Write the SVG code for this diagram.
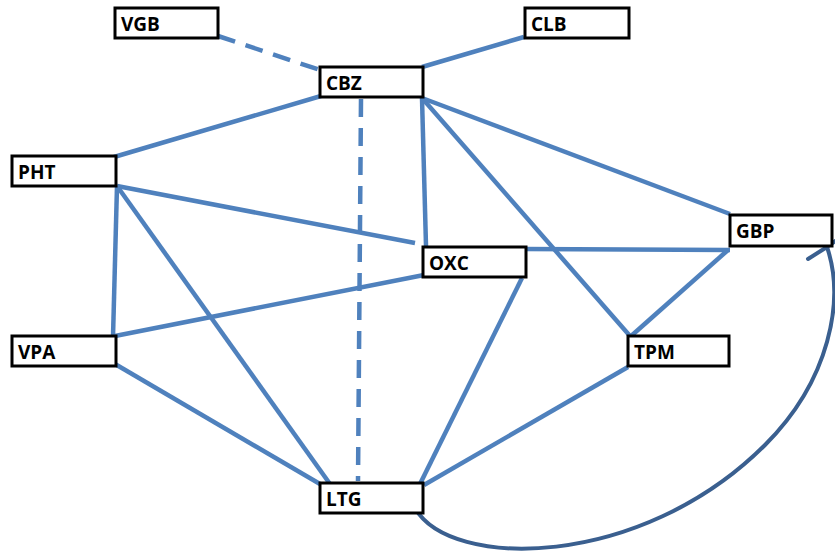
<svg xmlns="http://www.w3.org/2000/svg" width="835" height="554" viewBox="0 0 835 554">
  <style>
    .box { fill: #ffffff; stroke: #000000; stroke-width: 3; }
    .lbl { font-family: "Open Sans", "DejaVu Sans", sans-serif; font-weight: bold; font-size: 19px; fill: #000000; }
    .edge { stroke: #4F81BD; stroke-width: 4.5; fill: none; }
    .dash { stroke-dasharray: 18 11; }
    .loop { stroke: #3A5F8F; stroke-width: 4; fill: none; stroke-linecap: round; }
  </style>
  <rect width="835" height="554" fill="#ffffff"/>

  <!-- connectors -->
  <g id="connectors">
    <line class="edge dash" x1="218" y1="36" x2="320" y2="70"/>
    <line class="edge" x1="524" y1="37" x2="422" y2="67"/>
    <line class="edge" x1="321" y1="96" x2="114" y2="157"/>
    <line class="edge dash" x1="361" y1="99" x2="358" y2="481"/>
    <line class="edge" x1="422" y1="98" x2="426" y2="246"/>
    <line class="edge" x1="422" y1="98" x2="630" y2="336"/>
    <line class="edge" x1="422" y1="98" x2="730" y2="214"/>
    <line class="edge" x1="117" y1="186" x2="415" y2="243"/>
    <line class="edge" x1="117" y1="186" x2="113" y2="337"/>
    <line class="edge" x1="117" y1="186" x2="330" y2="484"/>
    <line class="edge" x1="115" y1="336" x2="424" y2="275"/>
    <line class="edge" x1="115" y1="364" x2="320" y2="484"/>
    <line class="edge" x1="524" y1="249" x2="730" y2="250"/>
    <line class="edge" x1="522" y1="278" x2="420" y2="484"/>
    <line class="edge" x1="728" y1="250" x2="630" y2="337"/>
    <line class="edge" x1="628" y1="367" x2="424" y2="485"/>
    <path class="loop" d="M415,508 C450,570 640,570 765,445 C830,380 845,300 827,247"/>
    <line class="loop" x1="827" y1="247" x2="808" y2="259"/>
    <line class="loop" x1="827" y1="247" x2="845" y2="234"/>
  </g>

  <g id="VGB"><rect class="box" x="115" y="8" width="103" height="30"/><text class="lbl" x="121" y="31">VGB</text></g>
  <g id="CLB"><rect class="box" x="525" y="8" width="104" height="30"/><text class="lbl" x="531" y="31">CLB</text></g>
  <g id="CBZ"><rect class="box" x="320" y="67" width="103" height="30"/><text class="lbl" x="326" y="90">CBZ</text></g>
  <g id="PHT"><rect class="box" x="12" y="156" width="104" height="30"/><text class="lbl" x="18" y="179">PHT</text></g>
  <g id="OXC"><rect class="box" x="423" y="247" width="103" height="30"/><text class="lbl" x="429" y="270">OXC</text></g>
  <g id="GBP"><rect class="box" x="730" y="215" width="102" height="31"/><text class="lbl" x="736" y="238">GBP</text></g>
  <g id="VPA"><rect class="box" x="12" y="336" width="104" height="30"/><text class="lbl" x="18" y="359">VPA</text></g>
  <g id="TPM"><rect class="box" x="628" y="336" width="101" height="30"/><text class="lbl" x="634" y="359">TPM</text></g>
  <g id="LTG"><rect class="box" x="320" y="483" width="103" height="30"/><text class="lbl" x="326" y="506">LTG</text></g>
</svg>
